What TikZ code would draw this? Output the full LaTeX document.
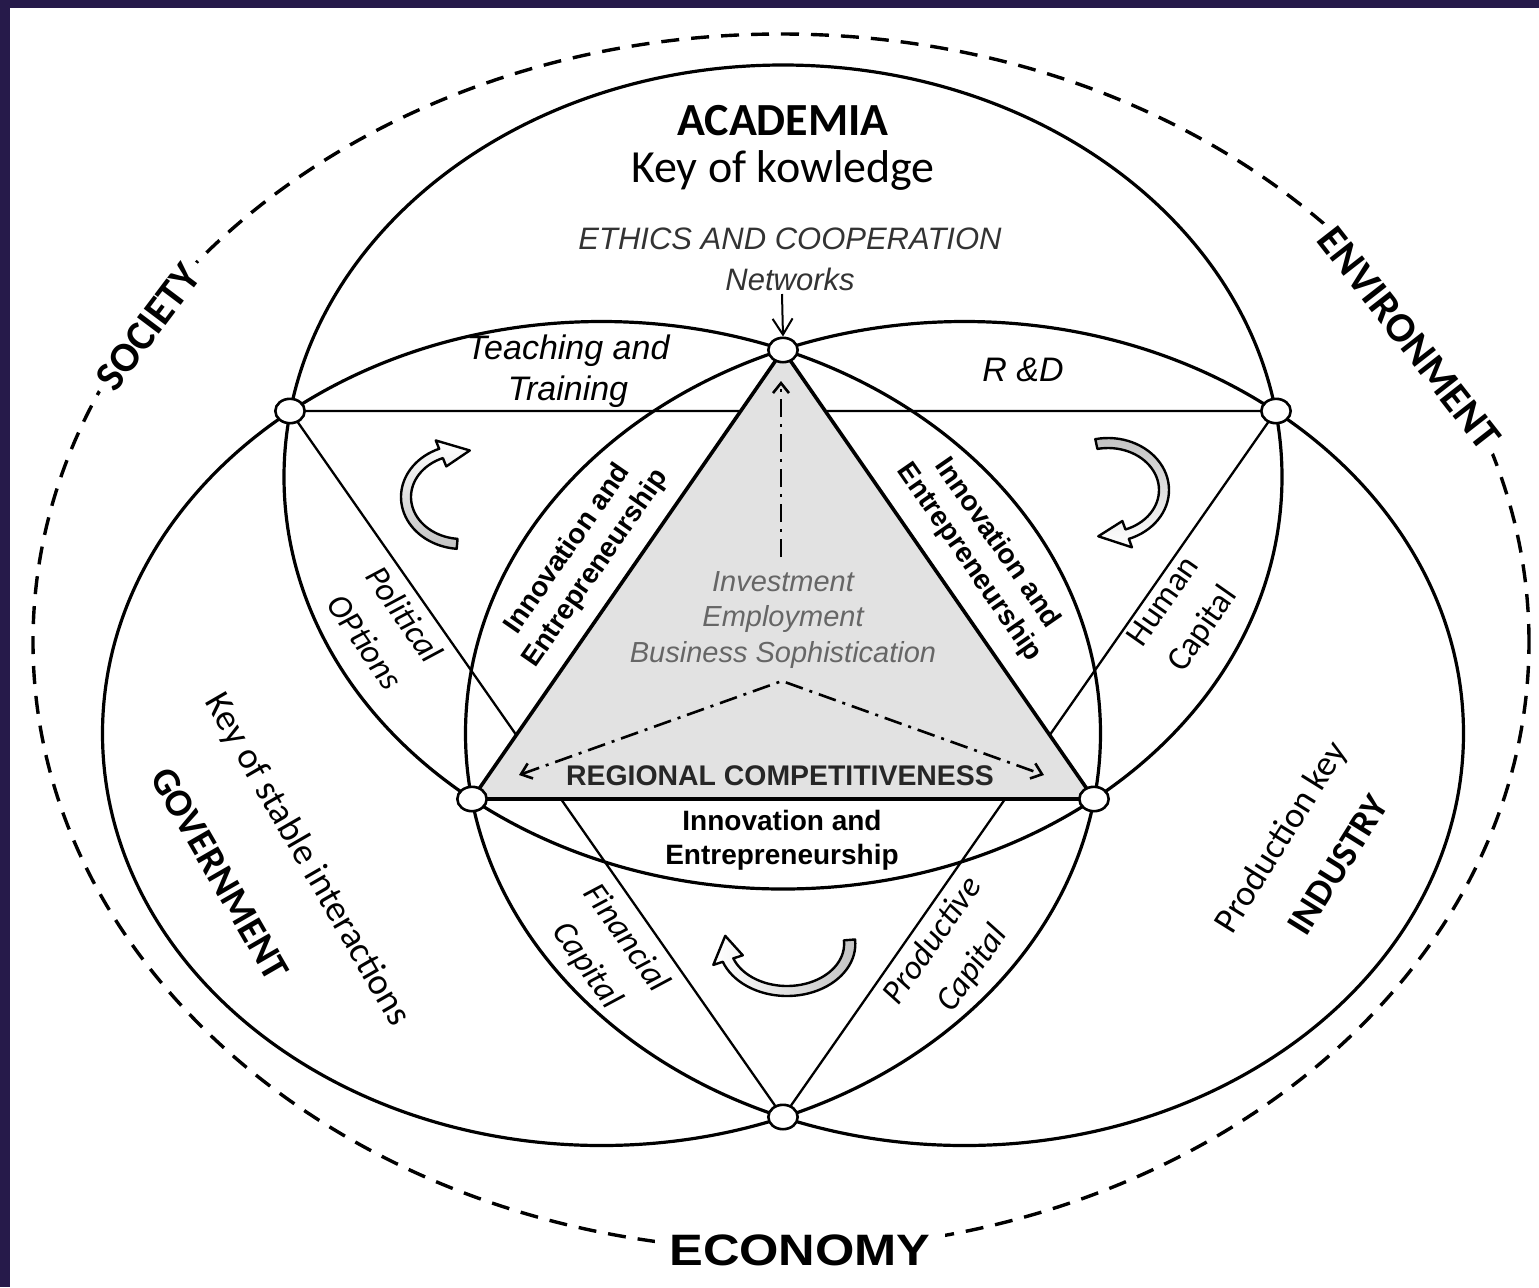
\documentclass[tikz,border=0pt]{standalone}
\usepackage{fontspec}
\usepackage{graphicx}
\setmainfont{Carlito}
\newfontfamily\calfont{Carlito}
\newfontfamily\arifont{Liberation Sans}
\usetikzlibrary{arrows.meta,shapes.geometric}
\definecolor{navyframe}{RGB}{38,26,74}
\definecolor{trigray}{RGB}{226,226,226}
\definecolor{arrgray}{RGB}{195,195,195}
\newcommand{\blockarr}[5]{%
  \begin{scope}[#1]
    \draw[blockarrow,#5] plot[domain=#2:#3,samples=40] ({61*cos(\x)},{52*sin(\x)})
      -- ({70*cos(#3)},{61*sin(#3)}) -- ({56*cos(#4)},{47*sin(#4)})
      -- ({42*cos(#3)},{33*sin(#3)})
      -- plot[domain=#3:#2,samples=40] ({51*cos(\x)},{42*sin(\x)}) -- cycle;
  \end{scope}}
\begin{document}
\begin{tikzpicture}[x=0.5pt,y=0.5pt,
  bigring/.style={line width=1.6pt},
  thinline/.style={line width=1.15pt},
  tri/.style={line width=1.8pt, fill=trigray, line join=miter},
  junction/.style={ellipse, draw, fill=white, line width=1.3pt, minimum width=14.7pt, minimum height=12.2pt, inner sep=0pt},
  outerdash/.style={line width=1.7pt, dash pattern=on 9pt off 6pt},
  ddline/.style={line width=1.3pt, dash pattern=on 9pt off 3.5pt on 1.5pt off 3.5pt},
  barb/.tip={Straight Barb[length=5pt,width=8pt]},
  netarrow/.style={line width=1pt, -{Straight Barb[length=8pt,width=10pt]}},
  blockarrow/.style={line width=1.2pt, line join=round},
  lab/.style={inner sep=1pt, align=center},
  headword/.style={lab, font=\calfont\bfseries\fontsize{23}{28}\selectfont},
  keytext/.style={lab, font=\calfont\fontsize{23}{28}\selectfont},
  ethics/.style={lab, text=black!80, font=\arifont\itshape\fontsize{15.5}{19}\selectfont},
  lens/.style={lab, font=\arifont\itshape\fontsize{17}{20.5}\selectfont},
  centertext/.style={lab, text=black!60, font=\arifont\itshape\fontsize{14.5}{17.75}\selectfont},
  innov/.style={lab, font=\arifont\bfseries\fontsize{14}{17}\selectfont},
  regional/.style={lab, text=black!85, font=\arifont\bfseries\fontsize{14.2}{17}\selectfont},
  capital/.style={lab, font=\calfont\itshape\fontsize{17}{24}\selectfont},
  capitalup/.style={lab, font=\calfont\fontsize{17}{24}\selectfont},
  sidekey/.style={lab, font=\calfont\fontsize{18.5}{22}\selectfont},
  sidename/.style={lab, font=\calfont\bfseries\fontsize{19.5}{23}\selectfont},
  indkeyfont/.style={lab, font=\calfont\fontsize{18}{22}\selectfont},
  indname/.style={lab, font=\calfont\bfseries\fontsize{18.5}{22}\selectfont},
  sphere/.style={lab, fill=white, inner sep=4pt, font=\calfont\bfseries\fontsize{21}{25}\selectfont},
  economy/.style={lab, fill=white, inner xsep=7pt, inner ysep=3pt, font=\arifont\bfseries\fontsize{22}{26}\selectfont}
]
\useasboundingbox (0,0) rectangle (1539,-1287);
\fill[navyframe] (0,0) rectangle (1539,-1287);
\fill[white] (10,-8) rectangle (1539,-1287);

% junction positions
\coordinate (cT) at (783,-350);
\coordinate (cL) at (290,-411);
\coordinate (cR) at (1276,-411);
\coordinate (cBL) at (472,-799);
\coordinate (cBR) at (1094,-799);
\coordinate (cB) at (783,-1117);

% outer dashed ring
\draw[outerdash] (781,-642) ellipse [x radius=374pt, y radius=304pt];

% three big rings
\draw[bigring] (783,-477) ellipse [x radius=249.5pt, y radius=206pt];
\draw[bigring] (601.5,-733.5) ellipse [x radius=249.5pt, y radius=206pt];
\draw[bigring] (964.5,-733.5) ellipse [x radius=249.5pt, y radius=206pt];

% big triangle
\draw[thinline] (cL) -- (cR) -- (cB) -- cycle;
% shaded inner triangle
\filldraw[tri] (cT) -- (cBL) -- (cBR) -- cycle;

% dash-dot arrows
\coordinate (dvBot) at (781,-557);
\coordinate (dvTop) at (781,-381);
\draw[ddline, -barb] (dvBot) -- (dvTop);
\coordinate (dApex) at (782,-681);
\coordinate (dLeft) at (519,-775);
\coordinate (dRight) at (1044,-775);
\draw[ddline, barb-barb] (dLeft) -- (dApex) -- (dRight);

% labels
\node[headword] (academia) at (783,-121) {ACADEMIA};
\node[keytext] (kowledge) at (783,-170) {Key of kowledge};
\node[ethics] (ethics) at (790,-239) {ETHICS AND COOPERATION};
\node[ethics] (networks) at (790,-279) {Networks};
\node[lens] (teaching) at (568,-371) {Teaching and\\Training};
\node[lens] (rd) at (1023,-370) {R \&D};
\node[centertext] (invest) at (783,-620) {Investment\\Employment\\Business Sophistication};
\node[regional] (regional) at (780,-776) {REGIONAL COMPETITIVENESS};
\node[innov] (ieBottom) at (782,-840) {Innovation and\\Entrepreneurship};
\node[innov, rotate=55.3] (ieLeft) at (582,-559) {Innovation and\\Entrepreneurship};
\node[innov, rotate=-55.3] (ieRight) at (983,-553) {Innovation and\\Entrepreneurship};
\node[capital, rotate=-55] (political) at (385,-628) {Political\\OPtions};
\node[capitalup, rotate=55] (human) at (1184,-616) {Human\\Capital};
\node[capital, rotate=-55] (financial) at (606,-952) {Financial\\Capital};
\node[capital, rotate=55] (productive) at (953,-955) {Productive\\Capital};
\node[sidekey, rotate=-60] (govkey) at (307,-860) {Key of stable interactions};
\node[sidename, rotate=-60] (government) at (220,-874) {GOVERNMENT};
\node[indkeyfont, rotate=58] (indkey) at (1282,-838) {Production key};
\node[indname, rotate=58] (industry) at (1338,-865) {INDUSTRY};
\node[sphere, rotate=53] (society) at (148,-327) {SOCIETY};
\node[sphere, rotate=-52] (environment) at (1409,-338) {ENVIRONMENT};
\node[economy] (economy) at (800,-1250) {\scalebox{1.15}[1]{ECONOMY}};

% curved block arrows
\blockarr{shift={(462,-497)}}{265}{112}{82}{top color=white,bottom color=arrgray}
\blockarr{shift={(1108,-490)}}{102}{-70}{-100}{top color=arrgray,bottom color=white}
\blockarr{shift={(787,-944)},xscale=1.12}{5}{-160}{-190}{left color=white,right color=arrgray}

% junction nodes
\node[junction] (jT) at (cT) {};
\node[junction] (jL) at (cL) {};
\node[junction] (jR) at (cR) {};
\node[junction] (jBL) at (cBL) {};
\node[junction] (jBR) at (cBR) {};
\node[junction] (jB) at (cB) {};

% networks arrow
\coordinate (netStart) at (782,-294);
\draw[netarrow] (netStart) -- (jT.north);
\end{tikzpicture}
\end{document}
